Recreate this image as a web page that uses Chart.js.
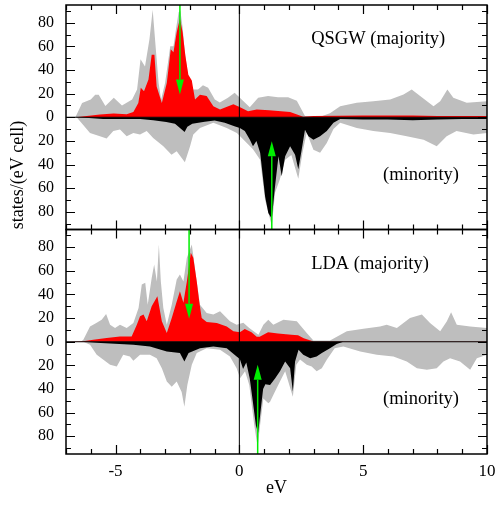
<!DOCTYPE html>
<html>
<head>
<meta charset="utf-8">
<script src="https://cdn.jsdelivr.net/npm/chart.js@4"></script>
<style>
body { margin: 0; background: #fff; }
#wrap { width: 496px; height: 506px; }
</style>
</head>
<body>
<div id="wrap"><canvas id="dos" width="496" height="506"></canvas></div>
<script>
// QSGW, majority spin: total (grey) and partial (red)
const qsgwUpTotE = [-7, -6.62, -6.35, -6.0, -5.82, -5.68, -5.41, -5.07, -4.74, -4.33, -4.13, -3.99, -3.81, -3.63, -3.50, -3.37, -3.26, -3.16, -3.0, -2.79, -2.66, -2.55, -2.45, -2.38, -2.29, -2.21, -2.07, -1.87, -1.67, -1.47, -1.26, -0.99, -0.79, -0.46, -0.19, 0.02, 0.22, 0.42, 0.76, 1.16, 1.56, 1.97, 2.32, 2.65, 3.26, 3.66, 4.07, 4.74, 5.41, 6.09, 6.63, 6.96, 7.30, 7.84, 8.11, 8.40, 8.64, 9.18, 10]
const qsgwUpTot = [0, 0, 12, 15, 19, 19, 9.5, 16.5, 10, 15, 23.5, 49, 43, 66, 91, 57, 29, 15, 29, 60, 60, 76, 89, 90, 76, 57, 35, 23.5, 23.5, 27, 25, 15, 12.4, 16.5, 20.7, 16.5, 12.4, 8.5, 16.5, 18, 17, 17, 14, 1, 0.5, 3.4, 9.4, 12.2, 13.6, 15, 19.3, 23.5, 17.9, 9.4, 13.6, 23.5, 16.5, 12.2, 13.6]
const qsgwUpPartE = [-7, -6.6, -5.63, -5.08, -4.55, -4.28, -4.08, -3.98, -3.85, -3.67, -3.54, -3.43, -3.34, -3.13, -2.93, -2.77, -2.66, -2.53, -2.40, -2.29, -2.18, -2.06, -1.92, -1.79, -1.59, -1.32, -1.05, -0.78, -0.24, 0.03, 0.35, 0.7, 1.2, 2.05, 2.58, 3.0, 5, 7, 8, 10]
const qsgwUpPart = [0, 0, 2.3, 3.2, 2.6, 4.5, 12, 25, 22, 32, 53, 53, 26, 12, 29, 57.5, 55, 72, 83.5, 72, 52, 36, 31, 15, 19, 18, 9.4, 6.6, 11, 8.5, 5, 6.5, 6, 4.5, 0.5, 1, 1.5, 1.5, 1, 1]

// QSGW, minority spin: total (grey) and partial (black), plotted downwards
const qsgwDnTotE = [-7, -6.57, -6.03, -5.63, -5.36, -5.09, -4.82, -4.55, -4.28, -4.01, -3.74, -3.48, -3.07, -2.74, -2.53, -2.20, -1.99, -1.86, -1.59, -1.05, -0.51, -0.10, 0.30, 0.55, 0.84, 1.04, 1.31, 1.44, 1.63, 1.85, 2.1, 2.38, 2.55, 2.72, 2.99, 3.26, 3.53, 3.80, 4.07, 4.74, 5.41, 6.09, 6.76, 7.44, 7.97, 8.37, 8.77, 9.45, 10]
const qsgwDnTot = [0, 0, -13.3, -16, -18, -11.7, -10.4, -16, -13.3, -14.7, -11.7, -17.5, -24.6, -31.7, -28.8, -38, -24.6, -14.7, -9, -4.7, -9, -13.3, -21.8, -27, -36, -70, -92, -64, -53, -36, -32, -52, -30, -13, -27.5, -30, -21.8, -10, -4.7, -9, -11.7, -13.3, -16, -19, -24.6, -16, -11.7, -14.7, -13.3]
const qsgwDnPartE = [-7, -6.5, -5.5, -4.0, -3.48, -2.95, -2.6, -2.48, -2.21, -2.1, -1.9, -1.40, -1.0, -0.59, -0.2, 0.02, 0.22, 0.42, 0.55, 0.69, 0.84, 1.04, 1.17, 1.31, 1.44, 1.58, 1.71, 1.85, 2.05, 2.25, 2.38, 2.52, 2.65, 2.79, 2.99, 3.26, 3.53, 3.80, 4.07, 5, 6, 7, 8, 9, 10]
const qsgwDnPart = [0, 0, -1.5, -1.5, -2.6, -4, -5.4, -7.6, -12.5, -8, -5.5, -3.9, -2.8, -4.6, -7.6, -9, -11.7, -18.8, -24.6, -20, -30, -67, -81, -86, -58.6, -33, -50, -33, -24.6, -31.7, -44, -27, -10.5, -16, -19, -16, -11.7, -4.7, -1.5, -2, -2, -2.5, -2, -1.5, -1.5]

// LDA, majority spin
const ldaUpTotE = [-7, -6.4, -6.30, -6.03, -5.76, -5.56, -5.38, -5.22, -5.02, -4.82, -4.55, -4.28, -4.07, -3.94, -3.80, -3.70, -3.54, -3.44, -3.33, -3.25, -3.17, -3.07, -2.93, -2.73, -2.53, -2.40, -2.26, -2.12, -1.92, -1.72, -1.59, -1.32, -1.05, -0.78, -0.38, -0.11, 0.16, 0.4, 0.77, 0.97, 1.17, 1.37, 1.78, 2.32, 2.72, 2.99, 3.66, 4.34, 5.01, 5.68, 5.95, 6.36, 6.89, 7.37, 7.70, 8.11, 8.38, 8.55, 8.78, 9.32, 10]
const ldaUpTot = [0, 0, 1.7, 13, 16, 18.7, 23.5, 14.4, 11.6, 14.4, 11.6, 15.9, 28.6, 48.4, 50, 31.4, 54, 65.4, 51, 82.4, 51, 28.6, 14.4, 31.4, 52.7, 57, 51, 71, 82.4, 51, 31.4, 24.4, 23, 25.8, 17.3, 14.4, 16, 11.6, 6, 14.4, 18.7, 14.4, 18.7, 17.3, 7.4, 1, 1, 8.8, 11, 13, 14.4, 11.6, 20, 23, 15.9, 8.8, 17.3, 25, 14.4, 13, 11.6]
const ldaUpPartE = [-7, -6.3, -5.9, -5.36, -4.82, -4.35, -4.14, -4.01, -3.87, -3.74, -3.54, -3.31, -3.13, -2.93, -2.73, -2.53, -2.40, -2.26, -2.12, -1.96, -1.86, -1.72, -1.62, -1.52, -1.32, -0.91, -0.51, -0.24, 0.02, 0.22, 0.49, 0.70, 0.82, 1.16, 1.56, 2.10, 2.37, 2.6, 3.0, 10]
const ldaUpPart = [0, 0.5, 1.7, 3.1, 4.5, 4.5, 14.4, 21.5, 23, 17.3, 30, 38.5, 17.3, 7.4, 20, 34, 42.8, 33, 51, 75.4, 71, 51, 34, 20, 16.7, 15.9, 13, 8.8, 8, 10.8, 8, 4.2, 4.2, 8, 7, 6, 5.5, 3, 0.3, 0.3]

// LDA, minority spin
const ldaDnTotE = [-7, -6.3, -6.03, -5.76, -5.49, -5.22, -4.95, -4.69, -4.42, -4.28, -4.01, -3.61, -3.34, -3.13, -2.93, -2.73, -2.53, -2.33, -2.22, -2.10, -1.92, -1.72, -1.32, -0.78, -0.38, -0.11, 0.03, 0.23, 0.4, 0.6, 0.74, 0.84, 0.97, 1.17, 1.24, 1.44, 1.64, 1.85, 2.16, 2.3, 2.45, 2.72, 2.92, 3.12, 3.33, 3.53, 3.85, 4.2, 4.88, 5.55, 6.22, 6.76, 7.17, 7.57, 7.97, 8.24, 8.51, 8.91, 9.32, 9.59, 10]
const ldaDnTot = [0, 0, -2.5, -11, -15.3, -19.5, -21, -11, -12.5, -16, -11, -11, -13.9, -22.4, -33.7, -38, -33.7, -42.5, -55, -36.5, -19.5, -9.6, -5.4, -6.8, -12.5, -22.4, -30.9, -25, -36.5, -70.5, -89, -70, -48, -52, -50.7, -42, -33.7, -25, -46.5, -19.5, -15, -19.5, -21, -25, -22.4, -15.3, -5.4, -4, -8.2, -11, -12.5, -16.7, -22.4, -23.8, -22.4, -16.7, -13.9, -16.7, -23.8, -13.9, -11]
const ldaDnPartE = [-7, -6.3, -5.6, -4.28, -3.61, -2.93, -2.40, -2.22, -2.05, -1.59, -1.05, -0.51, -0.11, 0.02, 0.15, 0.28, 0.42, 0.55, 0.67, 0.76, 0.85, 0.96, 1.05, 1.24, 1.44, 1.64, 1.85, 2.05, 2.16, 2.25, 2.39, 2.58, 2.86, 3.12, 3.33, 3.66, 3.93, 4.2, 10]
const ldaDnPart = [0, 0, -1, -2.5, -4, -8.2, -9.6, -16.7, -9.6, -5.4, -4, -5.4, -12.5, -14.5, -23, -17.6, -31, -51.6, -71, -77, -60, -40, -36, -36.5, -31, -25, -16.7, -22.4, -42, -16.7, -6.8, -11, -13.9, -12.5, -9.6, -5.4, -2, 0, 0]

// green arrows: energy and tip height
const qsgwArrowE = [-2.40, 1.31]
const qsgwArrowTip = [19.3, -20.4]
const ldaArrowE = [-2.03, 0.74]
const ldaArrowTip = [19.5, -19.5]

const yTicks = [-80, -60, -40, -20, 0, 20, 40, 60, 80]
const xTicks = [-5, 0, 5, 10]

const GREY = '#bebebe'
const GREEN = '#00ee00'
const SERIF = "'Liberation Serif', 'DejaVu Serif', serif"

const pts = (xs, ys) => xs.map((x, i) => ({x: x, y: ys[i]}))

function area(xs, ys, color, axis, order) {
    return {
        data: pts(xs, ys),
        yAxisID: axis,
        backgroundColor: color,
        borderWidth: 0,
        pointRadius: 0,
        tension: 0,
        fill: 'origin',
        order: order
    }
}

function yScale() {
    return {
        type: 'linear',
        position: 'left',
        stack: 'dos',
        stackWeight: 1,
        min: -95,
        max: 95,
        grid: { display: false, drawTicks: false },
        border: { display: false },
        afterBuildTicks: s => { s.ticks = yTicks.map(v => ({value: v})) },
        afterFit: s => { s.width = 66; s.paddingTop = 0; s.paddingBottom = 0 },
        ticks: {
            autoSkip: false,
            padding: 12,
            color: '#000',
            font: { family: SERIF, size: 16 },
            callback: v => String(Math.abs(v))
        }
    }
}

const panelText = {
    yTop: { major: 'QSGW (majority)', arrowsE: qsgwArrowE, arrowsTip: qsgwArrowTip },
    yBot: { major: 'LDA (majority)', arrowsE: ldaArrowE, arrowsTip: ldaArrowTip }
}

const decor = {
    id: 'decor',
    afterDatasetsDraw(chart) {
        const ctx = chart.ctx
        const xs = chart.scales.x
        ctx.save()
        for (const id of ['yTop', 'yBot']) {
            const ys = chart.scales[id]
            const top = ys.top, bot = ys.bottom, left = xs.left, right = xs.right
            const y0 = ys.getPixelForValue(0)
            const x0 = xs.getPixelForValue(0)

            // zero lines
            ctx.strokeStyle = '#000'
            ctx.lineWidth = 1
            ctx.beginPath()
            ctx.moveTo(left, y0); ctx.lineTo(right, y0)
            ctx.moveTo(x0, top); ctx.lineTo(x0, bot)
            ctx.stroke()

            // arrows
            const p = panelText[id]
            p.arrowsE.forEach((e, i) => {
                const tip = p.arrowsTip[i]
                const px = xs.getPixelForValue(e)
                const pt = ys.getPixelForValue(tip)
                const dir = tip > 0 ? 1 : -1   // 1 = pointing down
                const start = ys.getPixelForValue(tip > 0 ? 95 : -95)
                const head = 15
                ctx.strokeStyle = GREEN
                ctx.fillStyle = GREEN
                ctx.lineWidth = 1.5
                ctx.beginPath()
                ctx.moveTo(px, start)
                ctx.lineTo(px, pt - dir * head)
                ctx.stroke()
                ctx.beginPath()
                ctx.moveTo(px, pt)
                ctx.lineTo(px - 4, pt - dir * head)
                ctx.lineTo(px + 4, pt - dir * head)
                ctx.closePath()
                ctx.fill()
            })

            // frame
            ctx.strokeStyle = '#000'
            ctx.lineWidth = 1.5
            ctx.strokeRect(left, top, right - left, bot - top)

            // inward ticks
            ctx.lineWidth = 1.2
            ctx.beginPath()
            for (let e = -7; e <= 10; e++) {
                const px = Math.round(xs.getPixelForValue(e)) + 0.5
                const len = e % 5 === 0 ? 9 : 5
                ctx.moveTo(px, top); ctx.lineTo(px, top + len)
                ctx.moveTo(px, bot); ctx.lineTo(px, bot - len)
            }
            for (let v = -90; v <= 90; v += 10) {
                const py = Math.round(ys.getPixelForValue(v)) + 0.5
                const len = v % 20 === 0 ? 9 : 5
                ctx.moveTo(left, py); ctx.lineTo(left + len, py)
                ctx.moveTo(right, py); ctx.lineTo(right - len, py)
            }
            ctx.stroke()

            // labels
            ctx.fillStyle = '#000'
            ctx.font = '18.5px ' + SERIF
            ctx.textAlign = 'left'
            ctx.textBaseline = 'middle'
            ctx.fillText(p.major, xs.getPixelForValue(2.9), ys.getPixelForValue(66))
            ctx.fillText('(minority)', xs.getPixelForValue(5.8), ys.getPixelForValue(-48.7))
        }

        // y axis title, spanning the panels
        ctx.translate(18, 175)
        ctx.rotate(-Math.PI / 2)
        ctx.textAlign = 'center'
        ctx.textBaseline = 'middle'
        ctx.font = '18px ' + SERIF
        ctx.fillText('states/(eV cell)', 0, 0)
        ctx.restore()
    }
}

const ctx = document.getElementById('dos').getContext('2d')

const myChart = new Chart(ctx, {
    type: 'line',
    data: {
        datasets: [
            area(qsgwUpTotE, qsgwUpTot, GREY, 'yTop', 3),
            area(qsgwDnTotE, qsgwDnTot, GREY, 'yTop', 3),
            area(qsgwUpPartE, qsgwUpPart, '#ff0000', 'yTop', 2),
            area(qsgwDnPartE, qsgwDnPart, '#000000', 'yTop', 2),
            area(ldaUpTotE, ldaUpTot, GREY, 'yBot', 3),
            area(ldaDnTotE, ldaDnTot, GREY, 'yBot', 3),
            area(ldaUpPartE, ldaUpPart, '#ff0000', 'yBot', 2),
            area(ldaDnPartE, ldaDnPart, '#000000', 'yBot', 2)
        ]
    },
    options: {
        responsive: false,
        animation: false,
        layout: { padding: { top: 5, right: 9, left: 0, bottom: 0 } },
        plugins: { legend: { display: false }, tooltip: { enabled: false } },
        scales: {
            x: {
                type: 'linear',
                min: -7,
                max: 10,
                grid: { display: false, drawTicks: false },
                border: { display: false },
                afterBuildTicks: s => { s.ticks = xTicks.map(v => ({value: v})) },
                afterFit: s => { s.height = 52; s.paddingLeft = 0; s.paddingRight = 0 },
                ticks: {
                    autoSkip: false,
                    padding: 7,
                    maxRotation: 0,
                    color: '#000',
                    font: { family: SERIF, size: 17 }
                },
                title: {
                    display: true,
                    text: 'eV',
                    color: '#000',
                    font: { family: SERIF, size: 18 },
                    padding: { top: 0, bottom: 7 }
                }
            },
            yBot: yScale(),
            yTop: yScale()
        }
    },
    plugins: [decor]
})
</script>
</body>
</html>
